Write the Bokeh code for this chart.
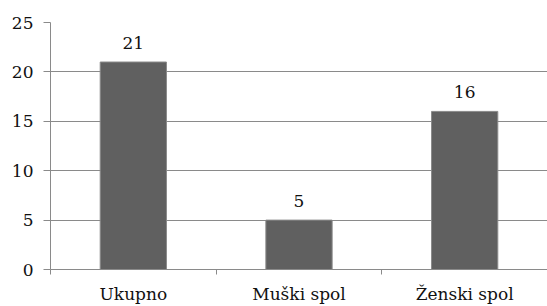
from bokeh.plotting import figure
from bokeh.models import ColumnDataSource, FixedTicker, Range1d
from bokeh.core.properties import value
from bokeh.embed import file_html
from bokeh.resources import INLINE

categories = ["Ukupno", "Muški spol", "Ženski spol"]
counts = [21, 5, 16]
y_ticks = [0, 5, 10, 15, 20, 25]

FONT = "DejaVu Serif"
xs = [i + 0.5 for i in range(len(categories))]
src = ColumnDataSource(dict(x=xs, top=counts, label=[str(c) for c in counts]))

p = figure(width=547, height=306, output_backend="svg", toolbar_location=None,
           x_range=Range1d(0, len(categories)), y_range=Range1d(0, 25),
           min_border_left=50, min_border_right=0, min_border_top=22, min_border_bottom=36)
p.outline_line_color = None
p.background_fill_color = "white"
p.border_fill_color = "white"

p.vbar(x="x", top="top", width=0.4, bottom=0, source=src,
       fill_color="#606060", line_color="#8a8a8a", line_width=1)
p.text(x="x", y="top", text="label", source=src, text_align="center",
       text_baseline="alphabetic", y_offset=-19, text_font=value(FONT),
       text_font_size="17px", text_color="#111111")

# y axis
p.yaxis.ticker = FixedTicker(ticks=y_ticks)
p.yaxis.axis_line_color = "#8a8a8a"
p.yaxis.major_tick_line_color = "#8a8a8a"
p.yaxis.major_tick_out = 7
p.yaxis.major_tick_in = 0
p.yaxis.minor_tick_line_color = None
p.yaxis.major_label_text_font = FONT
p.yaxis.major_label_text_font_size = "17px"
p.yaxis.major_label_text_color = "#111111"
p.yaxis.major_label_standoff = 10

# x axis: labels at centers, ticks at boundaries
p.xaxis.ticker = FixedTicker(ticks=xs, minor_ticks=list(range(len(categories) + 1)))
p.xaxis.major_label_overrides = {x: c for x, c in zip(xs, categories)}
p.xaxis.axis_line_color = "#8a8a8a"
p.xaxis.major_tick_line_color = None
p.xaxis.major_tick_out = 0
p.xaxis.major_tick_in = 0
p.xaxis.minor_tick_line_color = "#8a8a8a"
p.xaxis.minor_tick_out = 5
p.xaxis.minor_tick_in = 0
p.xaxis.major_label_text_font = FONT
p.xaxis.major_label_text_font_size = "17px"
p.xaxis.major_label_text_color = "#111111"
p.xaxis.major_label_standoff = 9

p.xgrid.grid_line_color = None
p.ygrid.grid_line_color = "#8a8a8a"
p.ygrid.grid_line_width = 1

open("out.html", "w").write(file_html(p, INLINE))
